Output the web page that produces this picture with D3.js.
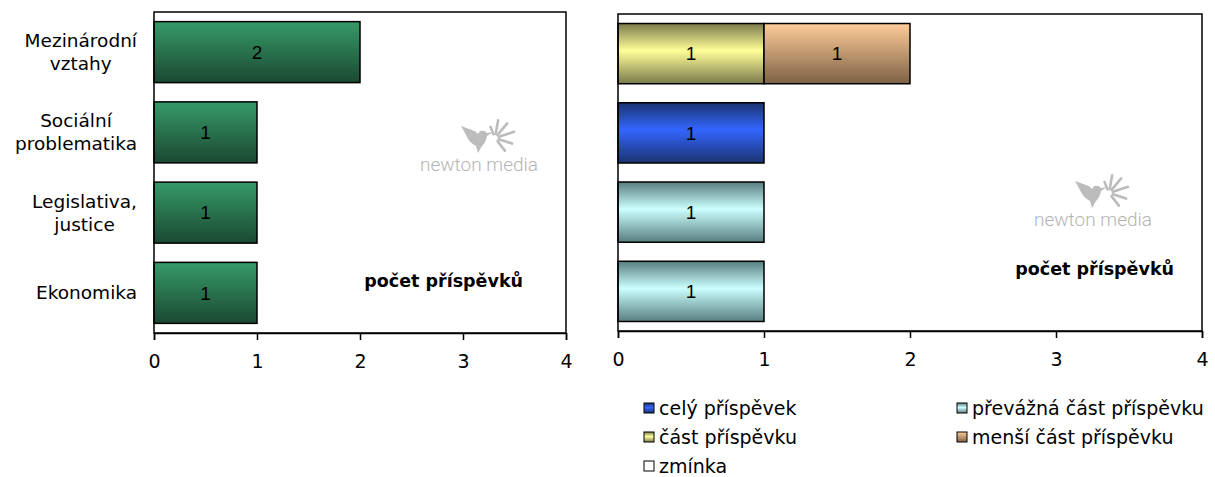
<!DOCTYPE html>
<html>
<head>
<meta charset="utf-8">
<script src="https://cdn.jsdelivr.net/npm/d3@7"></script>
<style>
    html, body { margin: 0; padding: 0; background: #fff; }
    svg { display: block; }
    text { font-family: 'DejaVu Sans', sans-serif; fill: #000; }
    .value { font-family: 'Liberation Sans', Arial, sans-serif; font-size: 19px; }
</style>
</head>
<body>
<svg id="chart" width="1215" height="477"></svg>
<script>
const categories = ['Mezinárodní vztahy', 'Sociální problematika', 'Legislativa, justice', 'Ekonomika'];
const categoryLines = [['Mezinárodní', 'vztahy'], ['Sociální', 'problematika'], ['Legislativa,', 'justice'], ['Ekonomika']];
const totals = [2, 1, 1, 1];

const seriesNames = ['celý příspěvek', 'převážná část příspěvku', 'část příspěvku', 'menší část příspěvku', 'zmínka'];
const celyPrispevek = [0, 1, 0, 0];
const prevaznaCast = [0, 0, 1, 1];
const castPrispevku = [1, 0, 0, 0];
const mensiCast = [1, 0, 0, 0];
const zminka = [0, 0, 0, 0];

const xTicks = [0, 1, 2, 3, 4];
const axisTitle = 'počet příspěvků';

const GRADIENTS = {
    total: [[0, '#369a67'], [1, '#1b4832']],
    s0: [[0, '#1a3370'], [0.45, '#3366ff'], [1, '#1a3370']],
    s1: [[0, '#587e7e'], [0.45, '#ccffff'], [1, '#587e7e']],
    s2: [[0, '#7a7a4c'], [0.45, '#ffff99'], [1, '#7a7a4c']],
    s3: [[0, '#ffcc99'], [1, '#7d6145']],
    s4: [[0, '#ffffff'], [1, '#ffffff']],
};

const svg = d3.select('#chart');
const defs = svg.append('defs');

Object.entries(GRADIENTS).forEach(([id, stops]) => {
    const grad = defs.append('linearGradient')
        .attr('id', `g-${id}`)
        .attr('x1', 0).attr('y1', 0).attr('x2', 0).attr('y2', 1);
    stops.forEach(([offset, color]) => {
        grad.append('stop').attr('offset', offset).attr('stop-color', color);
    });
});

const rows = categories.map((name, i) => ({
    name,
    total: totals[i],
    s0: celyPrispevek[i],
    s1: prevaznaCast[i],
    s2: castPrispevku[i],
    s3: mensiCast[i],
    s4: zminka[i],
}));

function drawWatermark(g, x, y) {
    const w = g.append('g').attr('transform', `translate(${x},${y})`).attr('fill', '#bcbcbc');
    // hummingbird: spread wing, body, beak
    w.append('path')
        .attr('d', 'M41,-45 L52,-41 Q56,-40 58,-37 L60,-40 Q65,-41 67,-38 L73,-39 L67,-35 Q66,-29 62,-25 L58,-18 L56,-25 Q50,-28 47,-34 Q44,-40 41,-45 Z');
    // splash drops
    const drops = [[-80, 14], [-50, 15], [-18, 16], [18, 14], [52, 12], [-112, 8]];
    drops.forEach(([angle, len]) => {
        const a = angle * Math.PI / 180;
        const cx = 75, cy = -33, r = 4;
        w.append('line')
            .attr('x1', cx + r * Math.cos(a)).attr('y1', cy + r * Math.sin(a))
            .attr('x2', cx + (r + len) * Math.cos(a)).attr('y2', cy + (r + len) * Math.sin(a))
            .attr('stroke', '#bcbcbc').attr('stroke-width', 2.6).attr('stroke-linecap', 'round');
    });
    w.append('text')
        .attr('x', 0).attr('y', 0)
        .style('font-family', 'Roboto, sans-serif')
        .style('font-weight', 300)
        .style('font-size', '19px')
        .style('fill', '#b4b4b4')
        .attr('textLength', 118)
        .attr('lengthAdjust', 'spacingAndGlyphs')
        .text('newton media');
}

function drawPanel(opts) {
    const { x0, x1, y0, y1 } = opts;
    const g = svg.append('g');

    const x = d3.scaleLinear().domain([0, 4]).range([x0, x1]);
    const y = d3.scaleBand().domain(categories).range([y0, y1]).paddingInner(0.24).paddingOuter(0.12);

    drawWatermark(g, opts.wmX, opts.wmY);

    g.append('text')
        .attr('x', opts.titleX)
        .attr('y', opts.titleY)
        .attr('text-anchor', 'end')
        .style('font-weight', 'bold')
        .style('font-size', '17.5px')
        .text(axisTitle);

    opts.bars(g, x, y);

    g.append('rect')
        .attr('x', x0).attr('y', y0)
        .attr('width', x1 - x0).attr('height', y1 - y0)
        .attr('fill', 'none')
        .attr('stroke', '#000')
        .attr('stroke-width', 1.5);

    const axis = g.append('g')
        .attr('transform', `translate(0,${y1})`)
        .call(d3.axisBottom(x).tickValues(xTicks).tickSize(7).tickPadding(15).tickFormat(d3.format('d')));
    axis.select('.domain').attr('stroke-width', 1.5);
    axis.selectAll('.tick line').attr('stroke-width', 1.5);
    axis.selectAll('text')
        .style('font-family', "'DejaVu Sans', sans-serif")
        .style('font-size', '19px')
        .attr('fill', '#000');

    return { g, x, y };
}

// left panel: totals
const left = drawPanel({
    x0: 154, x1: 566, y0: 12, y1: 333,
    wmX: 420, wmY: 171,
    titleX: 523, titleY: 287,
    bars: (g, x, y) => {
        g.selectAll('rect.bar')
            .data(rows)
            .join('rect')
            .attr('class', 'bar')
            .attr('x', x(0))
            .attr('y', d => y(d.name))
            .attr('width', d => x(d.total) - x(0))
            .attr('height', y.bandwidth())
            .attr('fill', 'url(#g-total)')
            .attr('stroke', '#000')
            .attr('stroke-width', 1.5);
        g.selectAll('text.value')
            .data(rows)
            .join('text')
            .attr('class', 'value')
            .attr('x', d => (x(0) + x(d.total)) / 2)
            .attr('y', d => y(d.name) + y.bandwidth() / 2)
            .attr('dy', '0.36em')
            .attr('text-anchor', 'middle')
            .text(d => d.total);
    },
});

// category labels, lines centred in a block right-aligned to the axis
categories.forEach((name, i) => {
    const lines = categoryLines[i];
    const cy = left.y(name) + left.y.bandwidth() / 2;
    const texts = lines.map((line, j) => svg.append('text')
        .attr('y', cy + (j - (lines.length - 1) / 2) * 23 + 6.5)
        .attr('text-anchor', 'middle')
        .style('font-size', '18.5px')
        .text(line));
    const maxW = d3.max(texts, t => t.node().getComputedTextLength());
    texts.forEach(t => t.attr('x', 137 - maxW / 2));
});

// right panel: stacked by share of the article
const seriesKeys = ['s0', 's1', 's2', 's3', 's4'];
const stacked = d3.stack().keys(seriesKeys)(rows);

drawPanel({
    x0: 618, x1: 1202, y0: 14, y1: 331,
    wmX: 1034, wmY: 226,
    titleX: 1174, titleY: 275,
    bars: (g, x, y) => {
        const segs = stacked.flatMap(layer => layer
            .filter(d => d[1] - d[0] > 0)
            .map(d => ({ key: layer.key, name: d.data.name, a: d[0], b: d[1] })));
        g.selectAll('rect.seg')
            .data(segs)
            .join('rect')
            .attr('class', 'seg')
            .attr('x', d => x(d.a))
            .attr('y', d => y(d.name))
            .attr('width', d => x(d.b) - x(d.a))
            .attr('height', y.bandwidth())
            .attr('fill', d => `url(#g-${d.key})`)
            .attr('stroke', '#000')
            .attr('stroke-width', 1.5);
        g.selectAll('text.value')
            .data(segs)
            .join('text')
            .attr('class', 'value')
            .attr('x', d => (x(d.a) + x(d.b)) / 2)
            .attr('y', d => y(d.name) + y.bandwidth() / 2)
            .attr('dy', '0.36em')
            .attr('text-anchor', 'middle')
            .text(d => d.b - d.a);
    },
});

// legend
const legendPos = [[644, 408], [957, 408], [644, 437], [957, 437], [644, 466]];
const legend = svg.append('g');
seriesNames.forEach((name, i) => {
    const [lx, ly] = legendPos[i];
    legend.append('rect')
        .attr('x', lx).attr('y', ly - 5)
        .attr('width', 10).attr('height', 10)
        .attr('fill', `url(#g-${seriesKeys[i]})`)
        .attr('stroke', '#000')
        .attr('stroke-width', 1);
    legend.append('text')
        .attr('x', lx + 15)
        .attr('y', ly + 7)
        .style('font-size', '19px')
        .text(name);
});
</script>
</body>
</html>
